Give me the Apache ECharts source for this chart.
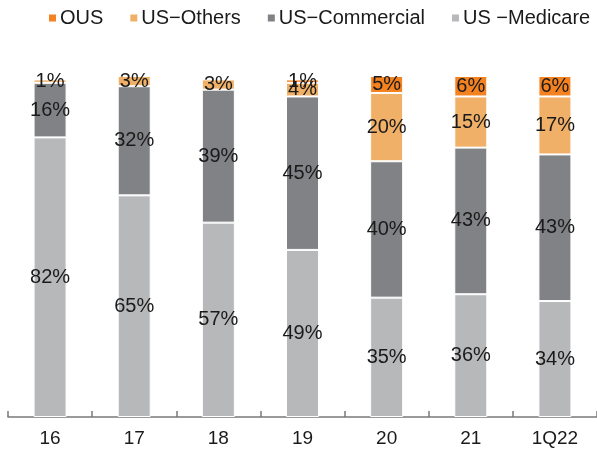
<!DOCTYPE html>
<html>
<head>
<meta charset="utf-8">
<script src="https://cdn.jsdelivr.net/npm/echarts@6/dist/echarts.min.js"></script>
<style>
  html, body { margin: 0; padding: 0; background: #fff; }
  #chart { width: 597px; height: 450px; }
</style>
</head>
<body>
<div id="chart"></div>
<script>
// data (share of sales, %)
var categories = ['16', '17', '18', '19', '20', '21', '1Q22']
var usMedicare = [82, 65, 57, 49, 35, 36, 34]
var usCommercial = [16, 32, 39, 45, 40, 43, 43]
var usOthers = [1, 3, 3, 4, 20, 15, 17]
var ous = [0, 0, 0, 1, 5, 6, 6]

var font = 'Liberation Sans'

function makeSeries(name, data, color) {
    return {
        name: name,
        type: 'bar',
        stack: 'total',
        barWidth: 33,
        data: data,
        itemStyle: { color: color, borderColor: '#fff', borderWidth: 1 },
        label: {
            show: true,
            position: 'inside',
            color: '#1a1a1a',
            fontSize: 20,
            fontFamily: font,
            formatter: function (p) { return p.value ? p.value + '%' : '' }
        }
    }
}

var chart = echarts.init(document.getElementById('chart'))
chart.setOption({
    animation: false,
    legend: {
        left: 47,
        top: 8,
        width: 560,
        padding: 0,
        itemWidth: 9,
        itemHeight: 9,
        itemGap: 25,
        icon: 'rect',
        textStyle: { fontSize: 20, color: '#1a1a1a', fontFamily: font, padding: [0, 0, 0, -2] },
        data: ['OUS', 'US−Others', 'US−Commercial', 'US −Medicare']
    },
    grid: { left: 8, right: 0, top: 76, bottom: 33 },
    xAxis: {
        type: 'category',
        data: categories,
        axisLine: { lineStyle: { color: '#7a7a7a', width: 1.5 } },
        axisTick: { show: true, inside: true, length: 6, lineStyle: { color: '#7a7a7a', width: 1.5 } },
        axisLabel: { fontSize: 19, color: '#1a1a1a', fontFamily: font, margin: 12 }
    },
    yAxis: {
        type: 'value',
        min: 0,
        max: 100,
        show: false
    },
    series: [
        makeSeries('US −Medicare', usMedicare, '#b7b8ba'),
        makeSeries('US−Commercial', usCommercial, '#808285'),
        makeSeries('US−Others', usOthers, '#f0b067'),
        makeSeries('OUS', ous, '#f58220')
    ]
})
</script>
</body>
</html>
